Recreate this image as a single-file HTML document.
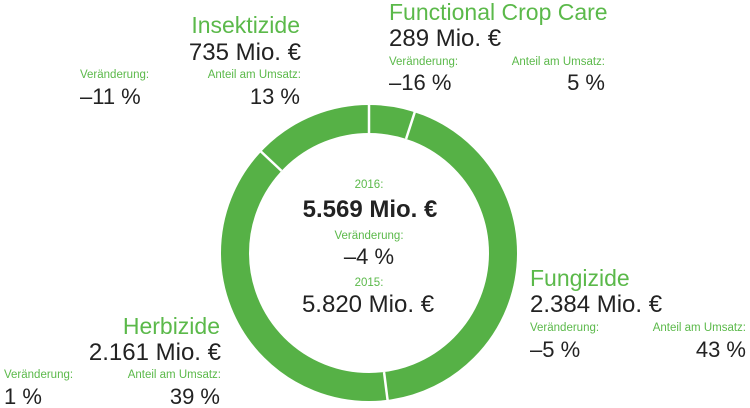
<!DOCTYPE html>
<html><head><meta charset="utf-8"><style>
html,body{margin:0;padding:0;background:#fff}
svg{display:block}
text{font-family:"Liberation Sans",Arial,sans-serif}
.g{fill:#5bb94a}
.k{fill:#222}
.t{font-size:23px}
.v{font-size:24px}
.p{font-size:22px}
.s{font-size:11.5px}
</style></head><body>
<svg width="750" height="408" viewBox="0 0 750 408" xmlns="http://www.w3.org/2000/svg">
<circle cx="369" cy="253" r="134" fill="none" stroke="#56b146" stroke-width="28"/>
<g stroke="#fff" stroke-width="2.5">
<line x1="369" y1="133" x2="369" y2="102" transform="rotate(0 369 253)"/>
<line x1="369" y1="133" x2="369" y2="102" transform="rotate(18 369 253)"/>
<line x1="369" y1="133" x2="369" y2="102" transform="rotate(172.8 369 253)"/>
<line x1="369" y1="133" x2="369" y2="102" transform="rotate(313.2 369 253)"/>
</g>
<g text-anchor="middle">
<text x="369" y="188" class="s g">2016:</text>
<text x="370" y="217" class="v k" font-weight="bold">5.569 Mio. €</text>
<text x="369" y="239" class="s g">Veränderung:</text>
<text x="369" y="264" class="p k">–4 %</text>
<text x="369" y="286" class="s g">2015:</text>
<text x="368" y="312" class="v k">5.820 Mio. €</text>
</g>
<text x="300" y="33" class="t g" text-anchor="end">Insektizide</text>
<text x="301" y="60" class="v k" text-anchor="end">735 Mio. €</text>
<text x="80" y="78" class="s g">Veränderung:</text>
<text x="80" y="104" class="p k">–11 %</text>
<text x="301" y="78" class="s g" text-anchor="end">Anteil am Umsatz:</text>
<text x="300" y="104" class="p k" text-anchor="end">13 %</text>
<text x="389" y="20" class="t g">Functional Crop Care</text>
<text x="389" y="46" class="v k">289 Mio. €</text>
<text x="389" y="65" class="s g">Veränderung:</text>
<text x="389" y="90" class="p k">–16 %</text>
<text x="605" y="65" class="s g" text-anchor="end">Anteil am Umsatz:</text>
<text x="605" y="90" class="p k" text-anchor="end">5 %</text>
<text x="530" y="286" class="t g">Fungizide</text>
<text x="530" y="312" class="v k">2.384 Mio. €</text>
<text x="530" y="331" class="s g">Veränderung:</text>
<text x="530" y="357" class="p k">–5 %</text>
<text x="746" y="331" class="s g" text-anchor="end">Anteil am Umsatz:</text>
<text x="746" y="357" class="p k" text-anchor="end">43 %</text>
<text x="220" y="334" class="t g" text-anchor="end">Herbizide</text>
<text x="221" y="360" class="v k" text-anchor="end">2.161 Mio. €</text>
<text x="4" y="378" class="s g">Veränderung:</text>
<text x="4" y="404" class="p k">1 %</text>
<text x="221" y="378" class="s g" text-anchor="end">Anteil am Umsatz:</text>
<text x="220" y="404" class="p k" text-anchor="end">39 %</text>
</svg>
</body></html>
